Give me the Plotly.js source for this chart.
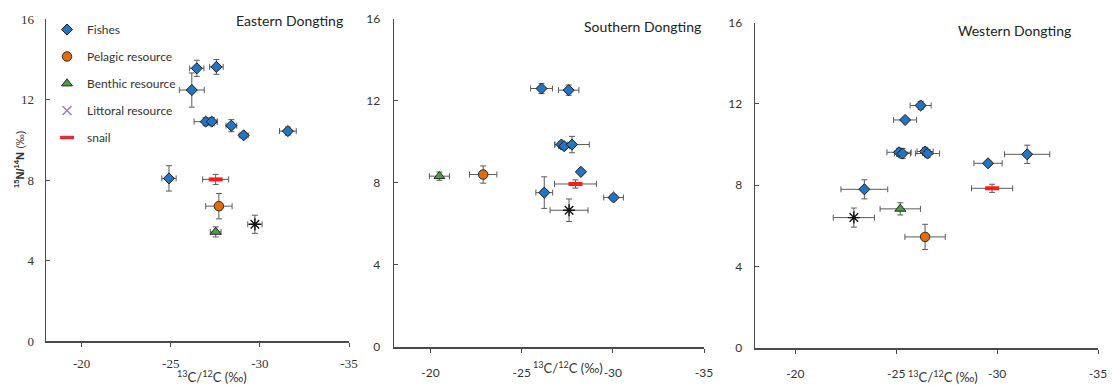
<!DOCTYPE html>
<html>
<head>
<meta charset="utf-8">
<script src="https://cdn.plot.ly/plotly-3.0.1.min.js"></script>
<style>html,body{margin:0;padding:0;background:#fff;}#chart{width:1112px;height:385px;}</style>
</head>
<body>
<div id="chart"></div>
<script>
// ---------- Data ----------
const panelTitles = ["Eastern Dongting", "Southern Dongting", "Western Dongting"];
const legendNames = ["Fishes", "Pelagic resource", "Benthic resource", "Littoral resource", "snail"];
const xTickVals = [-20, -25, -30, -35];
const yTickVals = [0, 4, 8, 12, 16];

// Eastern Dongting
const eFishX = [-26.46, -27.56, -26.18, -26.96, -27.3, -28.4, -29.09, -31.57, -24.9];
const eFishY = [13.55, 13.62, 12.47, 10.9, 10.9, 10.7, 10.22, 10.43, 8.08];
const eFishXErr = [0.4, 0.38, 0.7, 0.65, 0.3, 0.3, 0.25, 0.47, 0.4];
const eFishYErr = [0.4, 0.37, 0.85, 0.2, 0.2, 0.3, 0.15, 0.2, 0.63];
const ePelagic = [-27.7, 6.7, 0.74, 0.63];   // x, y, xErr, yErr
const eBenthic = [-27.52, 5.42, 0.3, 0.25];
const eLittoral = [-29.72, 5.8, 0.4, 0.45];
const eSnail = [-27.52, 8.03, 0.73, 0.25];

// Southern Dongting
const sFishX = [-26.09, -27.58, -27.18, -27.33, -27.76, -28.25, -26.24, -30.04];
const sFishY = [12.59, 12.51, 9.86, 9.78, 9.86, 8.53, 7.52, 7.28];
const sFishXErr = [0.6, 0.56, 0.35, 0.3, 0.95, 0.12, 0.46, 0.54];
const sFishYErr = [0.25, 0.25, 0.15, 0.15, 0.4, 0.12, 0.77, 0.15];
const sPelagic = [-22.89, 8.4, 0.75, 0.42];
const sBenthic = [-20.49, 8.32, 0.55, 0.2];
const sLittoral = [-27.6, 6.66, 1.04, 0.55];
const sSnail = [-27.95, 7.94, 1.15, 0.2];

// Western Dongting
const wFishX = [-26.21, -25.44, -25.14, -25.31, -26.43, -26.55, -29.55, -31.49, -23.42];
const wFishY = [11.92, 11.21, 9.62, 9.56, 9.66, 9.56, 9.08, 9.52, 7.8];
const wFishXErr = [0.52, 0.57, 0.6, 0.4, 0.4, 0.6, 0.7, 1.12, 1.16];
const wFishYErr = [0.2, 0.1, 0.2, 0.25, 0.2, 0.2, 0.1, 0.45, 0.47];
const wPelagic = [-26.43, 5.46, 1.0, 0.62];
const wBenthic = [-25.2, 6.84, 1.0, 0.3];
const wLittoral = [-22.9, 6.41, 1.02, 0.47];
const wSnail = [-29.75, 7.85, 1.02, 0.2];

// ---------- Styles ----------
const errColor = "#5a5a5a";
const styles = {
  fish: {symbol: "diamond", size: 8.5, color: "#2474c4", line: {color: "#1a1a1a", width: 1}},
  pelagic: {symbol: "circle", size: 9.5, color: "#e36c0a", line: {color: "#2a2a2a", width: 1}},
  benthic: {symbol: "triangle-up", size: 9.5, color: "#4e9b47", line: {color: "#2a2a2a", width: 1}},
  littoral: {symbol: "asterisk-open", size: 10, color: "#111", line: {color: "#111", width: 1.4}},
  snail: {symbol: "line-ew-open", size: 10, color: "#ff1a1a", line: {color: "#ff1a1a", width: 4}}
};

function errTrace(xs, ys, xe, ye, marker, ax) {
  return {
    type: "scatter", mode: "markers", x: xs, y: ys,
    xaxis: "x" + (ax === 1 ? "" : ax), yaxis: "y" + (ax === 1 ? "" : ax),
    marker: marker, showlegend: false, hoverinfo: "skip",
    error_x: {type: "data", array: xe, visible: true, color: errColor, thickness: 1, width: 3},
    error_y: {type: "data", array: ye, visible: true, color: errColor, thickness: 1, width: 3}
  };
}
function single(arr, marker, ax) {
  return errTrace([arr[0]], [arr[1]], [arr[2]], [arr[3]], marker, ax);
}

const traces = [];
const panels = [
  [eFishX, eFishY, eFishXErr, eFishYErr, ePelagic, eBenthic, eLittoral, eSnail],
  [sFishX, sFishY, sFishXErr, sFishYErr, sPelagic, sBenthic, sLittoral, sSnail],
  [wFishX, wFishY, wFishXErr, wFishYErr, wPelagic, wBenthic, wLittoral, wSnail]
];
panels.forEach((p, i) => {
  const ax = i + 1;
  traces.push(single(p[6], styles.littoral, ax));
  traces.push(single(p[7], styles.snail, ax));
  traces.push(single(p[4], styles.pelagic, ax));
  traces.push(single(p[5], styles.benthic, ax));
  traces.push(errTrace(p[0], p[1], p[2], p[3], styles.fish, ax));
});

// legend entries (panel 1)
const legendMarkers = [
  styles.fish, styles.pelagic, styles.benthic,
  {symbol: "x-thin-open", size: 9, color: "#9a7fc4", line: {color: "#9a7fc4", width: 1.5}},
  {symbol: "line-ew-open", size: 10, color: "#e8283a", line: {color: "#e8283a", width: 3.5}}
];
legendNames.forEach((n, i) => {
  traces.push({type: "scatter", mode: "markers", x: [null], y: [null], name: n,
    legendgroup: "g" + i, marker: legendMarkers[i], showlegend: true, hoverinfo: "skip"});
});

const W = 1112, H = 385;
const axisLine = "#4a4a4a";
function xa(domPx, tickFont, standoff) {
  return {domain: [domPx[0] / W, domPx[1] / W], range: [-18, -35], tickmode: "array",
    tickvals: xTickVals, ticktext: xTickVals.map(String), showgrid: false, zeroline: false,
    showline: true, linecolor: axisLine, linewidth: 1.5, ticks: "outside", ticklen: 4,
    tickcolor: axisLine, tickfont: tickFont, ticklabelstandoff: standoff, fixedrange: true, automargin: false};
}
function ya(domPx, tickFont, anchor, standoff) {
  return {domain: [1 - domPx[1] / H, 1 - domPx[0] / H], range: [0, 16], tickmode: "array",
    tickvals: yTickVals, ticktext: yTickVals.map(String), showgrid: false, zeroline: false,
    showline: true, linecolor: axisLine, linewidth: 1.5, ticks: "inside", ticklen: 4,
    tickcolor: axisLine, tickfont: tickFont, anchor: anchor, ticklabelstandoff: standoff, fixedrange: true, automargin: false};
}
const serifFont = {family: "Liberation Serif, Times New Roman, serif", size: 13, color: "#333"};
const sansFont = {family: "Lato, Open Sans, sans-serif", size: 12, color: "#333"};

const layout = {
  width: W, height: H, margin: {l: 0, r: 0, t: 0, b: 0, autoexpand: false},
  paper_bgcolor: "#fff", plot_bgcolor: "rgba(0,0,0,0)",
  showlegend: true,
  legend: {xref: "paper", yref: "paper", x: 47 / W, y: 1 - 15 / H, xanchor: "left", yanchor: "top",
    font: {family: "Lato, Open Sans, sans-serif", size: 12, color: "#333"},
    traceorder: "grouped", tracegroupgap: 8, itemwidth: 30, bgcolor: "rgba(0,0,0,0)"},
  xaxis: Object.assign(xa([46, 349], serifFont, 6), {anchor: "y"}),
  yaxis: ya([19, 341], serifFont, "x", 8),
  xaxis2: Object.assign(xa([394, 704], sansFont, 10), {anchor: "y2"}),
  yaxis2: ya([18.5, 347], sansFont, "x2", 10),
  xaxis3: Object.assign(xa([755, 1098], sansFont, 10), {anchor: "y3"}),
  yaxis3: ya([22.5, 348], sansFont, "x3", 9),
  annotations: [
    {text: panelTitles[0], xref: "paper", yref: "paper", x: 345 / W, y: 1 - 20 / H, xanchor: "right", yanchor: "middle", showarrow: false,
      font: {family: "Lato, Open Sans, sans-serif", size: 14, color: "#222"}},
    {text: panelTitles[1], xref: "paper", yref: "paper", x: 703 / W, y: 1 - 26 / H, xanchor: "right", yanchor: "middle", showarrow: false,
      font: {family: "Lato, Open Sans, sans-serif", size: 14, color: "#222"}},
    {text: panelTitles[2], xref: "paper", yref: "paper", x: 1073 / W, y: 1 - 30 / H, xanchor: "right", yanchor: "middle", showarrow: false,
      font: {family: "Lato, Open Sans, sans-serif", size: 14, color: "#222"}},
    {text: "<sup>13</sup>C/<sup>12</sup>C (‰)", xref: "paper", yref: "paper", x: 212 / W, y: 1 - 376 / H, xanchor: "center", yanchor: "middle", showarrow: false,
      font: {family: "Lato, Open Sans, sans-serif", size: 13, color: "#333"}},
    {text: "<sup>13</sup>C/<sup>12</sup>C (‰)", xref: "paper", yref: "paper", x: 568 / W, y: 1 - 367 / H, xanchor: "center", yanchor: "middle", showarrow: false,
      font: {family: "Lato, Open Sans, sans-serif", size: 13, color: "#333"}},
    {text: "<sup>13</sup>C/<sup>12</sup>C (‰)", xref: "paper", yref: "paper", x: 943 / W, y: 1 - 376 / H, xanchor: "center", yanchor: "middle", showarrow: false,
      font: {family: "Lato, Open Sans, sans-serif", size: 13, color: "#333"}},
    {text: "<b><sup>15</sup>N/<sup>14</sup>N</b> (‰)", xref: "paper", yref: "paper", x: 19 / W, y: 1 - 160 / H, xanchor: "center", yanchor: "middle", showarrow: false,
      textangle: -90, font: {family: "Liberation Sans, Arial, sans-serif", size: 11, color: "#333"}}
  ]
};

Plotly.newPlot("chart", traces, layout, {staticPlot: true, displayModeBar: false});
</script>
</body>
</html>
